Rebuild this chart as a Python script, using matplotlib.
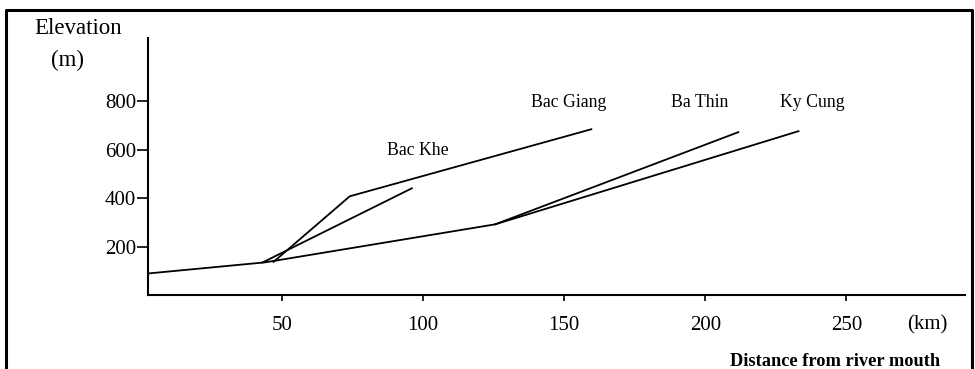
import matplotlib.pyplot as plt
from matplotlib.lines import Line2D

plt.rcParams['font.family'] = ['Liberation Serif', 'DejaVu Serif']

# river long profiles: distance from mouth (km) and elevation (m)
ky_cung_km = [2.5, 44, 125.5, 233]
ky_cung_m = [89, 135, 292, 677]
bac_khe_km = [43, 96]
bac_khe_m = [134, 441]
bac_giang_km = [47, 74, 159.6]
bac_giang_m = [137, 408, 685]
ba_thin_km = [125.5, 211.7]
ba_thin_m = [292, 673]

river_names = ['Bac Khe', 'Bac Giang', 'Ba Thin', 'Ky Cung']
label_km = [98, 151.5, 198, 238]
label_m = [598, 797, 797, 797]

x_ticks = [50, 100, 150, 200, 250]
y_ticks = [200, 400, 600, 800]

fig = plt.figure(figsize=(9.75, 3.69), dpi=100)
ax = fig.add_axes([0.1518, 0.2005, 0.8379, 0.6965])

for km, m in [(ky_cung_km, ky_cung_m), (bac_khe_km, bac_khe_m),
              (bac_giang_km, bac_giang_m), (ba_thin_km, ba_thin_m)]:
    ax.plot(km, m, color='black', linewidth=1.3)

for name, x, y in zip(river_names, label_km, label_m):
    ax.text(x, y, name, ha='center', va='center', fontsize=12.8)

ax.set_xlim(2.5, 292)
ax.set_ylim(0, 1062)
ax.set_xticks(x_ticks)
ax.set_yticks(y_ticks)
ax.tick_params(axis='x', direction='out', length=4, width=1.2, pad=11, labelsize=15)
ax.tick_params(axis='y', direction='out', length=8, width=1.2, pad=0.5, labelsize=15)
for s in ['top', 'right']:
    ax.spines[s].set_visible(False)
for s in ['left', 'bottom']:
    ax.spines[s].set_linewidth(1.5)

fig.text(0.080, 0.924, 'Elevation', ha='center', va='center', fontsize=16.5)
fig.text(0.0697, 0.837, '(m)', ha='center', va='center', fontsize=16.5)
fig.text(0.951, 0.119, '(km)', ha='center', va='center', fontsize=15)
fig.text(0.856, 0.019, 'Distance from river mouth', ha='center', va='center',
         fontsize=13.2, fontweight='bold')

# outer frame (left, top, right)
fig.add_artist(Line2D([0.006, 0.006, 0.997, 0.997], [0.0, 0.972, 0.972, 0.0],
                      color='black', linewidth=2.2, transform=fig.transFigure))

fig.savefig('out.png', dpi=100)
